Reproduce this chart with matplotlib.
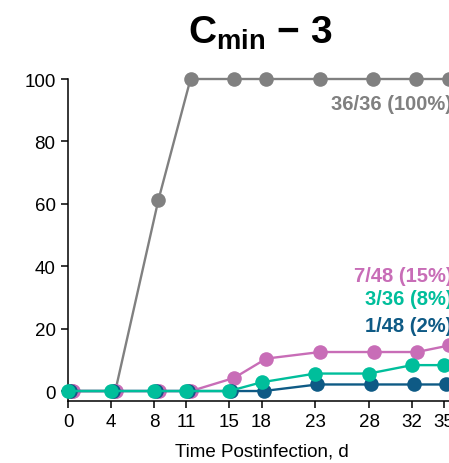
import matplotlib
matplotlib.use('Agg')
import matplotlib.pyplot as plt

plt.rcParams['font.family'] = ['Liberation Sans', 'DejaVu Sans']
plt.rcParams['mathtext.fontset'] = 'custom'
plt.rcParams['mathtext.rm'] = 'Liberation Sans'
plt.rcParams['mathtext.bf'] = 'Liberation Sans:bold'

# --- data ---
days = [0, 4, 8, 11, 15, 18, 23, 28, 32, 35]
gray_pct = [0, 0, 61.1, 100, 100, 100, 100, 100, 100, 100]
pink_pct = [0, 0, 0, 0, 4.2, 10.4, 12.5, 12.5, 12.5, 14.6]
blue_pct = [0, 0, 0, 0, 0, 0, 2.1, 2.1, 2.1, 2.1]
teal_pct = [0, 0, 0, 0, 0, 2.8, 5.6, 5.6, 8.3, 8.3]

labels = {
    'gray': '36/36 (100%)',
    'pink': '7/48 (15%)',
    'teal': '3/36 (8%)',
    'blue': '1/48 (2%)',
}

# drawing order bottom -> top, colour, small x dodge
series = [
    ('gray', gray_pct, '#808080', 0.40),
    ('pink', pink_pct, '#C86DB7', 0.45),
    ('blue', blue_pct, '#0E5A85', 0.20),
    ('teal', teal_pct, '#00BE9B', 0.00),
]
label_y = {'gray': 92.2, 'pink': 37.0, 'teal': 29.6, 'blue': 21.0}

fig = plt.figure(figsize=(4.49, 4.64), dpi=100)
ax = fig.add_axes([68 / 449, 62.3 / 464, 387 / 449, 321.7 / 464])

for name, vals, col, dx in series:
    xs = [d + dx for d in days]
    ax.plot(xs, vals, color=col, linewidth=1.7, marker='o', markersize=10.5,
            markeredgewidth=0, clip_on=False, zorder=3)
    ax.text(35.75, label_y[name], labels[name], color=col, fontsize=14.5,
            fontweight='bold', ha='right', va='center')

ax.set_xlim(0, 36)
ax.set_ylim(-3.1, 100)
ax.set_xticks(days)
ax.set_yticks([0, 20, 40, 60, 80, 100])
ax.tick_params(labelsize=13.5, length=5, width=1.1, pad=4)
ax.spines['top'].set_visible(False)
ax.spines['right'].set_visible(False)
ax.spines['left'].set_linewidth(1.1)
ax.spines['bottom'].set_linewidth(1.1)
ax.set_xlabel('Time Postinfection, d', fontsize=13.5, labelpad=9)

fig.text(0.579, 0.905, r'$\mathbf{C}_{\mathbf{min}}$' + ' \u2212 3', fontsize=28,
         fontweight='bold', ha='center', va='baseline')

fig.savefig('out.png', dpi=100)
